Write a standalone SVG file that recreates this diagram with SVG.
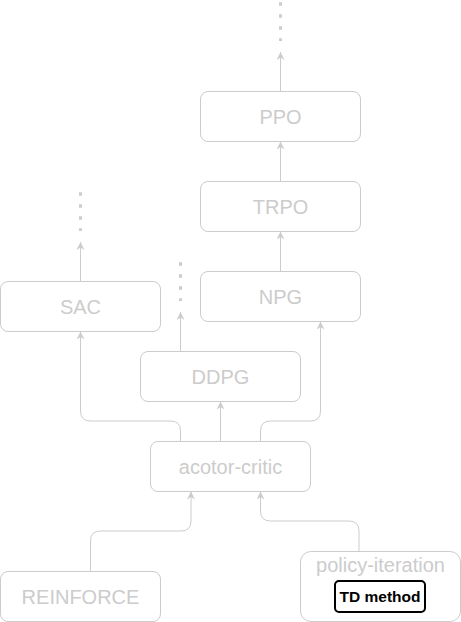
<svg xmlns="http://www.w3.org/2000/svg" width="461" height="622" viewBox="0 0 461 622">
<style>
.box{fill:#ffffff;stroke:#cccccc;stroke-width:1}
.lbl{font-family:"Liberation Sans",Arial,sans-serif;font-size:20px;fill:#cccccc;text-anchor:middle}
.edge{fill:none;stroke:#cccccc;stroke-width:1}
.dots{fill:none;stroke:#cccccc;stroke-width:3;stroke-dasharray:3.5 8.5}
.td{fill:#ffffff;stroke:#000000;stroke-width:2}
.tdl{font-family:"Liberation Sans",Arial,sans-serif;font-size:15.5px;font-weight:bold;fill:#000000;text-anchor:middle}
</style>
<defs>
<marker id="arr" viewBox="0 0 10 10" refX="10" refY="5" markerWidth="8" markerHeight="8" markerUnits="userSpaceOnUse" orient="auto">
<path d="M0,0 L10,5 L0,10 L3,5 z" fill="#cccccc"/>
</marker>
</defs>
<rect width="461" height="622" fill="#ffffff"/>
<g id="connectors">
<line class="dots" x1="280.5" y1="2.2" x2="280.5" y2="41"/>
<line class="dots" x1="80.5" y1="192.2" x2="80.5" y2="231"/>
<line class="dots" x1="180.5" y1="262.2" x2="180.5" y2="301"/>
<path class="edge" d="M280.5,91.5 L280.5,52" marker-end="url(#arr)"/>
<path class="edge" d="M280.5,181.5 L280.5,141.5" marker-end="url(#arr)"/>
<path class="edge" d="M280.5,271.5 L280.5,231.5" marker-end="url(#arr)"/>
<path class="edge" d="M80.5,281.5 L80.5,242" marker-end="url(#arr)"/>
<path class="edge" d="M180.5,351.5 L180.5,312" marker-end="url(#arr)"/>
<path class="edge" d="M180.5,441.5 L180.5,431 Q180.5,421 170.5,421 L90.5,421 Q80.5,421 80.5,411 L80.5,331.5" marker-end="url(#arr)"/>
<path class="edge" d="M220.5,441.5 L220.5,401.5" marker-end="url(#arr)"/>
<path class="edge" d="M260.5,441.5 L260.5,431 Q260.5,421 270.5,421 L310.5,421 Q320.5,421 320.5,411 L320.5,321.5" marker-end="url(#arr)"/>
<path class="edge" d="M90.5,571.5 L90.5,541 Q90.5,531 100.5,531 L181,531 Q191,531 191,521 L191,491.5" marker-end="url(#arr)"/>
<path class="edge" d="M359,551.5 L359,531 Q359,521 349,521 L270.5,521 Q260.5,521 260.5,511 L260.5,491.5" marker-end="url(#arr)"/>
</g>
<g id="ppo"><rect class="box" x="200.5" y="91.5" width="160" height="50" rx="7.5"/><text class="lbl" x="280.5" y="123.5">PPO</text></g>
<g id="trpo"><rect class="box" x="200.5" y="181.5" width="160" height="50" rx="7.5"/><text class="lbl" x="280.5" y="213.5">TRPO</text></g>
<g id="npg"><rect class="box" x="200.5" y="271.5" width="160" height="50" rx="7.5"/><text class="lbl" x="280.5" y="303.5">NPG</text></g>
<g id="sac"><rect class="box" x="0.5" y="281.5" width="160" height="50" rx="7.5"/><text class="lbl" x="80.5" y="313.5">SAC</text></g>
<g id="ddpg"><rect class="box" x="140.5" y="351.5" width="160" height="50" rx="7.5"/><text class="lbl" x="220.5" y="383.5">DDPG</text></g>
<g id="actor-critic"><rect class="box" x="150.5" y="441.5" width="160" height="50" rx="7.5"/><text class="lbl" x="230.5" y="473.5">acotor-critic</text></g>
<g id="reinforce"><rect class="box" x="0.5" y="571.5" width="160" height="50" rx="7.5"/><text class="lbl" x="80.5" y="603.5">REINFORCE</text></g>
<g id="policy-iteration"><rect class="box" x="300.5" y="551.5" width="160" height="70" rx="10.5"/><text class="lbl" x="380.5" y="572">policy-iteration</text>
<rect class="td" x="335" y="581" width="90" height="31" rx="4"/><text class="tdl" x="380" y="602">TD method</text></g>
</svg>
